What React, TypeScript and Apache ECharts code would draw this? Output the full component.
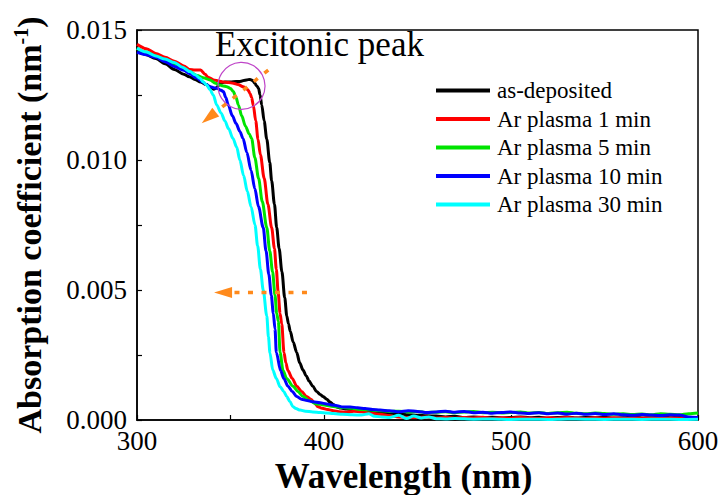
import React, { useEffect, useRef } from "react";
import * as echarts from "echarts";

const FONT = '"Liberation Serif", "Times New Roman", Times, serif';

// ---------- data (wavelength nm, absorption coefficient nm^-1) ----------
const seriesNames = [
  "as-deposited",
  "Ar plasma 1 min",
  "Ar plasma 5 min",
  "Ar plasma 10 min",
  "Ar plasma 30 min",
];
const seriesColors = ["#000000", "#ff0000", "#00e400", "#0000ff", "#00ffff"];

const asDeposited: [number, number][] = [
  [300, 0.0142], [305, 0.01405], [310, 0.0139], [315, 0.0137], [320, 0.01348],
  [325, 0.0133], [328, 0.0132], [331, 0.0131], [334, 0.013], [337, 0.0129],
  [339, 0.01282], [341, 0.01272], [342.6, 0.01278], [344.4, 0.01295], [347, 0.013],
  [350, 0.013], [353, 0.01302], [355, 0.01302], [358.6, 0.01308], [360.4, 0.0131],
  [362, 0.01305], [363, 0.01295], [364, 0.01285], [365, 0.01276], [365.8, 0.0125],
  [366.7, 0.01212], [368, 0.0115], [369.4, 0.0108], [371, 0.0099], [372, 0.0092],
  [373.5, 0.0083], [374.7, 0.0074], [376, 0.0066], [377.5, 0.0057], [379, 0.0047],
  [380.1, 0.004], [381, 0.0037], [382, 0.0034], [383.5, 0.003], [385.4, 0.0026],
  [387, 0.0022], [388.8, 0.00192], [390.5, 0.0017], [392, 0.0015], [394, 0.0013],
  [396, 0.0011], [398, 0.00098], [399.5, 0.0009], [401.5, 0.0008], [403, 0.0007],
  [405, 0.0006], [406.8, 0.0005], [409, 0.00046], [412, 0.00042], [415, 0.0004],
  [418, 0.00037], [422, 0.00034], [426, 0.00032], [430, 0.0003], [435, 0.00026],
  [440, 0.00024], [445, 0.0002], [450, 0.00018], [455, 0.00016], [460, 0.00015],
  [465, 0.00012], [470, 0.00014], [475, 0.0001], [480, 0.00012], [485, 0.00009],
  [490, 0.00011], [495, 0.00008], [500, 0.0001], [505, 0.00012], [510, 0.00009],
  [515, 0.00011], [520, 0.00007], [525, 0.0001], [530, 0.00012], [535, 0.00008],
  [540, 0.0001], [545, 0.00009], [550, 0.00011], [555, 0.00007], [560, 0.00009],
  [565, 0.00011], [570, 0.00008], [575, 0.0001], [580, 0.00012], [585, 0.00009],
  [590, 0.00011], [595, 0.00008], [600, 0.0001],
];

const arPlasma1: [number, number][] = [
  [300, 0.01445], [305, 0.01428], [310, 0.0141], [315, 0.01395], [320, 0.0138],
  [325, 0.01362], [328, 0.01348], [331, 0.01346], [334, 0.01346], [336.4, 0.0133],
  [338, 0.01318], [341, 0.01308], [343.5, 0.01304], [346, 0.013], [349, 0.01298],
  [351.5, 0.01295], [354, 0.0129], [356.8, 0.01282], [358.5, 0.01275], [359.5, 0.01268],
  [360.5, 0.01255], [361.3, 0.0124], [362.2, 0.0121], [363.5, 0.0115], [364.7, 0.0108],
  [366, 0.0102], [368, 0.0093], [370, 0.0083], [372, 0.0074], [373.5, 0.0066],
  [374.5, 0.0058], [375.5, 0.0049], [376.5, 0.0041], [377.4, 0.0037], [378.6, 0.0026],
  [379.6, 0.0022], [380.7, 0.0019], [383, 0.0016], [385.4, 0.0013], [388, 0.0011],
  [390.7, 0.0009], [393, 0.0008], [395, 0.00065], [396.8, 0.00051], [399, 0.00045],
  [402, 0.0004], [405, 0.00036], [408, 0.00032], [412, 0.0003], [416, 0.00034],
  [420, 0.00032], [425, 0.00026], [430, 0.00022], [435, 0.00016], [440, 0.00012],
  [445, 0.0001], [450, 0.0001], [455, 0.00012], [460, 0.00008], [465, 0.0001],
  [470, 0.00007], [475, 0.0001], [480, 0.00008], [485, 0.00011], [490, 0.00006],
  [495, 0.00009], [500, 0.00007], [505, 0.0001], [510, 0.00008], [515, 0.00006],
  [520, 0.00009], [525, 0.00007], [530, 0.0001], [535, 0.00008], [540, 0.00006],
  [545, 0.00009], [550, 0.00007], [555, 0.00009], [560, 0.00006], [565, 0.00008],
  [570, 0.00007], [575, 0.00009], [580, 0.00006], [585, 0.00008], [590, 0.00007],
  [595, 0.00009], [600, 0.00008],
];

const arPlasma5: [number, number][] = [
  [300, 0.0143], [305, 0.01415], [310, 0.014], [315, 0.01385], [320, 0.0137],
  [325, 0.01352], [328, 0.0134], [332, 0.01325], [336, 0.01315], [339, 0.01308],
  [342, 0.01295], [344.4, 0.01288], [346, 0.01285], [348, 0.01282], [350, 0.01275],
  [351.5, 0.01263], [353, 0.0124], [354.2, 0.01212], [356, 0.0117], [358, 0.0113],
  [360, 0.011], [361.3, 0.01083], [363, 0.0101], [365, 0.0093], [367, 0.0084],
  [369.4, 0.0074], [371, 0.0065], [372.5, 0.0057], [373.8, 0.0048], [374.7, 0.0041],
  [375.6, 0.0038], [376.5, 0.0026], [378.1, 0.0019], [380, 0.0016], [383.4, 0.0013],
  [386, 0.0011], [388.8, 0.0009], [392, 0.00075], [396, 0.00062], [400, 0.00058],
  [405, 0.00052], [410, 0.00048], [415, 0.00045], [420, 0.0004], [425, 0.00038],
  [430, 0.00036], [435, 0.00033], [440, 0.00034], [445, 0.00031], [450, 0.00033],
  [455, 0.00029], [460, 0.0003], [465, 0.00032], [470, 0.00028], [475, 0.00031],
  [480, 0.00033], [485, 0.00028], [490, 0.0003], [495, 0.00027], [500, 0.00029],
  [505, 0.00031], [510, 0.00027], [515, 0.00029], [520, 0.00025], [525, 0.00028],
  [530, 0.0003], [535, 0.00026], [540, 0.00024], [545, 0.00027], [550, 0.00025],
  [555, 0.00022], [560, 0.00024], [565, 0.00021], [570, 0.00023], [575, 0.0002],
  [580, 0.00024], [585, 0.00022], [590, 0.0002], [595, 0.00024], [600, 0.00027],
];

const arPlasma10: [number, number][] = [
  [300, 0.01415], [305, 0.01405], [310, 0.01395], [315, 0.01378], [320, 0.0136],
  [325, 0.01345], [328, 0.01333], [332, 0.01315], [335, 0.013], [337, 0.0129],
  [339, 0.01282], [341, 0.01278], [343, 0.01275], [345, 0.01268], [346.2, 0.01263],
  [347.5, 0.0124], [348.8, 0.01212], [351, 0.0117], [353, 0.0114], [355, 0.0111],
  [356.7, 0.01083], [358.7, 0.0103], [361, 0.0096], [363, 0.0089], [365, 0.0082],
  [367.5, 0.0074], [369, 0.0065], [370.5, 0.0056], [371.8, 0.0048], [372.9, 0.0041],
  [373.8, 0.0035], [374.5, 0.0026], [376.8, 0.0019], [378.5, 0.0016], [380.7, 0.0013],
  [383, 0.0011], [385.4, 0.0009], [388, 0.0008], [391, 0.00075], [394, 0.0007],
  [398, 0.00066], [401.4, 0.00062], [404, 0.00058], [407, 0.00055], [410, 0.0005],
  [414, 0.0005], [418, 0.00047], [422, 0.00044], [426, 0.0004], [430, 0.00038],
  [435, 0.00036], [440, 0.00032], [445, 0.00036], [450, 0.00033], [455, 0.00029],
  [460, 0.00031], [465, 0.00034], [470, 0.0003], [475, 0.00033], [480, 0.00028],
  [485, 0.0003], [490, 0.00026], [495, 0.00029], [500, 0.00031], [505, 0.00027],
  [510, 0.00025], [515, 0.00028], [520, 0.00024], [525, 0.00027], [530, 0.00023],
  [535, 0.00026], [540, 0.00022], [545, 0.00025], [550, 0.00021], [555, 0.00024],
  [560, 0.0002], [565, 0.00018], [570, 0.00021], [575, 0.00019], [580, 0.00017],
  [585, 0.0002], [590, 0.00019], [595, 0.00012], [600, 0.0001],
];

const arPlasma30: [number, number][] = [
  [300, 0.0143], [305, 0.01415], [310, 0.014], [315, 0.01388], [320, 0.01375],
  [324, 0.01358], [328.3, 0.0134], [331, 0.01328], [333.7, 0.01314], [335.5, 0.013],
  [337.3, 0.01288], [339, 0.0127], [340.8, 0.0125], [342.6, 0.01212], [345, 0.0118],
  [347, 0.0115], [349, 0.0112], [351.3, 0.01083], [353.3, 0.0105], [355, 0.01],
  [357, 0.0094], [359, 0.0088], [361, 0.0082], [363.1, 0.0075], [364.5, 0.0067],
  [366, 0.0058], [367.5, 0.005], [369.4, 0.004], [370.3, 0.0032], [371.1, 0.00258],
  [372.6, 0.00192], [374.5, 0.0016], [376.5, 0.00128], [378.5, 0.0011], [380.1, 0.0009],
  [381.8, 0.0007], [383.4, 0.00051], [385, 0.00044], [387.2, 0.00038], [390, 0.00034],
  [394, 0.00031], [398, 0.00029], [401.4, 0.00027], [405, 0.00025], [410, 0.00022],
  [415, 0.0002], [420, 0.00019], [424, 0.00024], [427, 0.00014], [431, 0.00012],
  [435, 0.0001], [440, 0.00018], [444, 0.00006], [448, 0.00015], [452, 0.00008],
  [456, 0.00012], [460, 0.00005], [465, 0.00004], [470, 0.00006], [480, 0.00003],
  [490, 0.00004], [500, 0.00002], [510, 0.00003], [520, 0.00002], [530, 0.00004],
  [540, 0.00003], [550, 0.00002], [560, 0.00003], [570, 0.00002], [580, 0.00003],
  [590, 0.00002], [600, 0.00003],
];

const allSeries = [asDeposited, arPlasma1, arPlasma5, arPlasma10, arPlasma30];

// axis ticks
const xMin = 300, xMax = 600, xStep = 100;
const yMin = 0, yMax = 0.015, yStep = 0.005;

// annotations (data coordinates)
const peakLabel = "Excitonic peak";
const peakLabelAt: [number, number] = [341.7, 0.01443];
const peakCircleAt: [number, number] = [355.9, 0.01285];
const peakArrow: [number, number][] = [[370.2, 0.01346], [334.6, 0.01141]];
const edgeArrow: [number, number][] = [[390.9, 0.0049], [341.2, 0.0049]];

const ORANGE = "#ff8a1c";
const CIRCLE = "#bf45c8";

export default function App() {
  const ref = useRef<HTMLDivElement>(null);

  useEffect(() => {
    document.body.style.margin = "0";
    if (!ref.current) return;
    const chart = echarts.init(ref.current, null, { renderer: "svg" });

    const option: any = {
      animation: false,
      backgroundColor: "#ffffff",
      textStyle: { fontFamily: FONT },
      grid: {
        left: 137,
        right: 22,
        top: 30,
        bottom: 75,
        outerBoundsMode: "none",
        containLabel: false,
        show: true,
        borderColor: "#000",
        borderWidth: 1.5,
        backgroundColor: "transparent",
      },
      legend: {
        orient: "vertical",
        left: 436,
        top: 79,
        padding: 0,
        itemWidth: 54,
        itemHeight: 4,
        itemGap: 5.5,
        icon: "rect",
        data: seriesNames,
        textStyle: { fontFamily: FONT, fontSize: 23, lineHeight: 23, color: "#000", padding: [0, 0, 0, 2] },
      },
      xAxis: {
        type: "value",
        min: xMin,
        max: xMax,
        interval: xStep,
        name: "Wavelength (nm)",
        nameLocation: "middle",
        nameGap: 38,
        nameTextStyle: {
          fontFamily: FONT,
          fontSize: 35,
          lineHeight: 32,
          fontWeight: "bold",
          color: "#000",
          padding: [0, 28, 0, 0],
        },
        axisLine: { show: true, lineStyle: { color: "#000", width: 1.5 } },
        axisTick: { show: true, inside: true, length: 5, lineStyle: { color: "#000", width: 1.2 } },
        minorTick: { show: true, splitNumber: 2, length: 5, lineStyle: { color: "#000", width: 1.2 } },
        splitLine: { show: false },
        axisLabel: { fontFamily: FONT, fontSize: 27, color: "#000", margin: 7 },
      },
      yAxis: {
        type: "value",
        min: yMin,
        max: yMax,
        interval: yStep,
        name: "{t|Absorption coefficient (nm}{s|-1}{t|)}",
        nameLocation: "middle",
        nameGap: 90,
        nameRotate: 90,
        nameTextStyle: {
          rich: {
            t: { fontFamily: FONT, fontSize: 34, fontWeight: "bold", color: "#000", lineHeight: 36 },
            s: { fontFamily: FONT, fontSize: 20, fontWeight: "bold", color: "#000", verticalAlign: "top", lineHeight: 20 },
          },
        },
        axisLine: { show: true, lineStyle: { color: "#000", width: 1.5 } },
        axisTick: { show: true, inside: true, length: 5, lineStyle: { color: "#000", width: 1.2 } },
        minorTick: { show: true, splitNumber: 2, length: 5, lineStyle: { color: "#000", width: 1.2 } },
        splitLine: { show: false },
        axisLabel: {
          fontFamily: FONT,
          fontSize: 27,
          color: "#000",
          margin: 10,
          formatter: (v: number) => v.toFixed(3),
        },
      },
      series: allSeries.map((d, i) => ({
        name: seriesNames[i],
        type: "line",
        data: d,
        color: seriesColors[i],
        showSymbol: false,
        symbol: "none",
        smooth: 0.3,
        smoothMonotone: "x",
        lineStyle: { width: 3, color: seriesColors[i], join: "round" },
        z: 2 + i,
      })),
    };

    chart.setOption(option);

    const px = (p: [number, number]) =>
      chart.convertToPixel({ gridIndex: 0 }, p) as unknown as number[];

    const arrow = (tail: [number, number], tip: [number, number]) => {
      const a = px(tail);
      const b = px(tip);
      const dx = b[0] - a[0];
      const dy = b[1] - a[1];
      const len = Math.hypot(dx, dy);
      const ux = dx / len;
      const uy = dy / len;
      const L = 18;
      const W = 5.5;
      const base = [b[0] - ux * L, b[1] - uy * L];
      const nx = -uy;
      const ny = ux;
      return [
        {
          type: "line",
          z: 100,
          shape: { x1: a[0], y1: a[1], x2: base[0], y2: base[1] },
          style: { stroke: ORANGE, lineWidth: 3.5, lineDash: [5, 8.5] },
        },
        {
          type: "polygon",
          z: 100,
          shape: {
            points: [
              [b[0], b[1]],
              [base[0] + nx * W, base[1] + ny * W],
              [base[0] - nx * W, base[1] - ny * W],
            ],
          },
          style: { fill: ORANGE },
        },
      ];
    };

    const c = px(peakCircleAt);
    const lab = px(peakLabelAt);

    chart.setOption({
      graphic: [
        {
          type: "circle",
          z: 100,
          shape: { cx: c[0], cy: c[1], r: 23.5 },
          style: { fill: "none", stroke: CIRCLE, lineWidth: 1.2 },
        },
        ...arrow(peakArrow[0], peakArrow[1]),
        ...arrow(edgeArrow[0], edgeArrow[1]),
        {
          type: "text",
          z: 100,
          x: lab[0],
          y: lab[1],
          style: {
            text: peakLabel,
            font: `35px ${FONT}`,
            fill: "#000",
            align: "left",
            verticalAlign: "middle",
          },
        },
      ],
    });

    return () => chart.dispose();
  }, []);

  return <div ref={ref} style={{ width: 720, height: 495 }} />;
}
